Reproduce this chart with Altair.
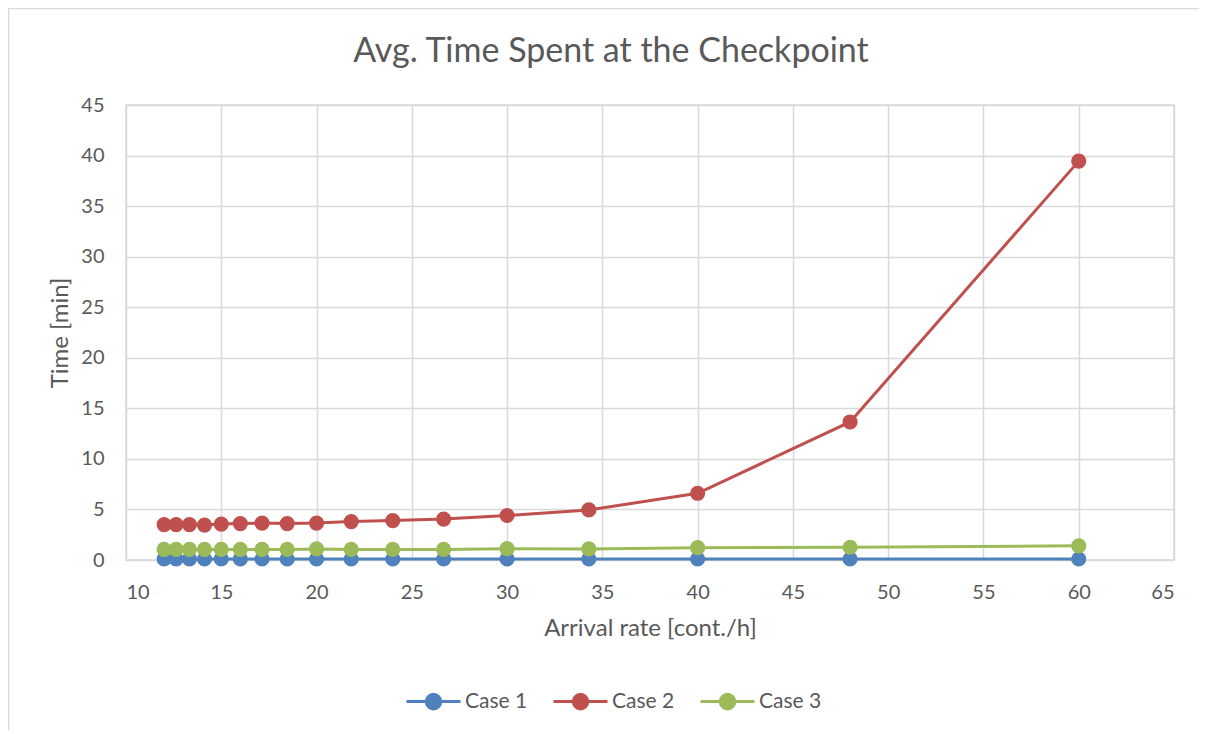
import altair as alt
import pandas as pd

arrival_rate = [12, 12.63, 13.33, 14.12, 15, 16, 17.14, 18.46, 20, 21.82, 24, 26.67, 30, 34.29, 40, 48, 60]
case1 = [0.1, 0.1, 0.1, 0.1, 0.1, 0.1, 0.1, 0.1, 0.1, 0.1, 0.1, 0.1, 0.1, 0.1, 0.1, 0.1, 0.1]
case2 = [3.5, 3.5, 3.5, 3.45, 3.55, 3.6, 3.65, 3.6, 3.65, 3.8, 3.9, 4.05, 4.4, 4.95, 6.6, 13.65, 39.45]
case3 = [1.05, 1.05, 1.05, 1.05, 1.05, 1.05, 1.05, 1.05, 1.1, 1.05, 1.05, 1.05, 1.12, 1.1, 1.22, 1.26, 1.4]
series_names = ["Case 1", "Case 2", "Case 3"]
series_colors = ["#4f81bd", "#c0504d", "#9bbb59"]
chart_title = "Avg. Time Spent at the Checkpoint"

rows = []
for name, vals in zip(series_names, [case1, case2, case3]):
    for xv, yv in zip(arrival_rate, vals):
        rows.append({"x": xv, "y": yv, "series": name})
df = pd.DataFrame(rows)

FONT = "Lato"
TXT = "#595959"
GRID = "#d9d9d9"

xs = alt.Scale(domain=[10, 65], nice=False, zero=False)
ys = alt.Scale(domain=[0, 45], nice=False)
cs = alt.Scale(domain=series_names, range=series_colors)

x_enc = alt.X("x:Q", scale=xs, title="Arrival rate [cont./h]",
              axis=alt.Axis(values=list(range(10, 66, 5)), grid=True, ticks=False, domain=False,
                            labelPadding=22, titlePadding=14))
y_enc = alt.Y("y:Q", scale=ys, title="Time [min]",
              axis=alt.Axis(values=list(range(0, 46, 5)), grid=True, ticks=False, domain=False,
                            labelPadding=22, titlePadding=8))

legend_path = "M-1,0L1,0M0.27,0A0.27,0.27,0,1,1,-0.27,0A0.27,0.27,0,1,1,0.27,0Z"


def make_legend():
    return alt.Legend(title=None, orient="none", direction="horizontal",
                      legendX=279, legendY=568,
                      symbolType=legend_path, symbolSize=2916,
                      symbolStrokeWidth=3, symbolOpacity=1,
                      labelFont=FONT, labelFontSize=21, labelColor=TXT,
                      labelOffset=3, columnPadding=19)


one = pd.DataFrame({"a": [0]})

frame = alt.Chart(one).mark_rect(
    filled=False, stroke=GRID, strokeWidth=1.5
).encode(
    x=alt.value(-117.5), x2=alt.value(1300), y=alt.value(-96.5), y2=alt.value(800)
)

title_text = alt.Chart(one).mark_text(
    font=FONT, fontSize=34, color=TXT, align="center", baseline="alphabetic"
).encode(
    x=alt.value(485), y=alt.value(-43), text=alt.value(chart_title)
)

lines = alt.Chart(df).mark_line(strokeWidth=3).encode(
    x=x_enc, y=y_enc,
    stroke=alt.Stroke("series:N", scale=cs, legend=make_legend()),
    detail="series:N",
)

points = alt.Chart(df).mark_point(filled=False, size=230, strokeWidth=0, opacity=1).encode(
    x="x:Q", y="y:Q",
    fill=alt.Fill("series:N", scale=cs, legend=make_legend()),
    stroke=alt.Stroke("series:N", scale=cs, legend=make_legend()),
)

chart = alt.layer(frame, title_text, lines, points).properties(
    width=1048, height=455,
    autosize=alt.AutoSizeParams(type="none"),
    padding={"left": 118, "top": 97, "right": 25, "bottom": 170},
).configure_view(
    stroke=GRID, strokeWidth=1.5
).configure_axis(
    gridColor=GRID, gridWidth=1.5,
    labelFont=FONT, labelFontSize=20, labelColor=TXT,
    titleFont=FONT, titleFontSize=24, titleColor=TXT, titleFontWeight="normal",
)

chart.save("out.html", embed_options={"renderer": "svg", "actions": False})
